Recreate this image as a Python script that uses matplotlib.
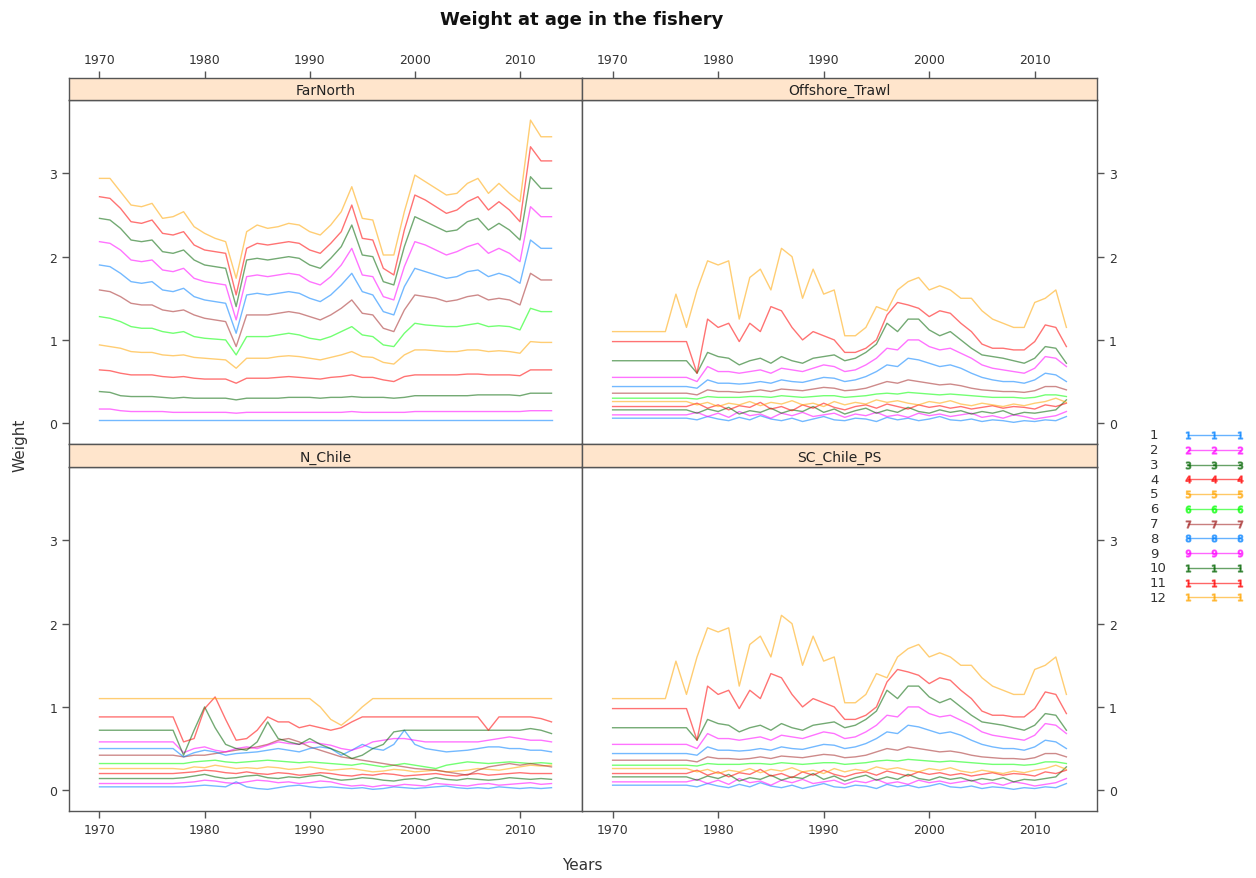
import matplotlib
matplotlib.use("Agg")
import matplotlib.pyplot as plt
from matplotlib.lines import Line2D

years = list(range(1970, 2014))
ages = [str(a) for a in range(1, 13)]
panel_names = ["FarNorth", "Offshore_Trawl", "N_Chile", "SC_Chile_PS"]
age_colors = ["#0080ff", "#ff00ff", "darkgreen", "#ff0000", "orange", "#00ff00", "brown",
              "#0080ff", "#ff00ff", "darkgreen", "#ff0000", "orange"]

# weight at age, one list per age (1..12), years 1970..2013
farnorth = [
    [0.04] * 44,
    [0.17, 0.17, 0.15, 0.14, 0.14, 0.14, 0.14, 0.13, 0.13, 0.13,
     0.13, 0.13, 0.13, 0.12, 0.13, 0.13, 0.13, 0.13, 0.13, 0.13,
     0.13, 0.13, 0.13, 0.13, 0.14, 0.13, 0.13, 0.13, 0.13, 0.13,
     0.14, 0.14, 0.14, 0.14, 0.14, 0.14, 0.14, 0.14, 0.14, 0.14,
     0.14, 0.15, 0.15, 0.15],
    [0.38, 0.37, 0.33, 0.32, 0.32, 0.32, 0.31, 0.30, 0.31, 0.30,
     0.30, 0.30, 0.30, 0.28, 0.30, 0.30, 0.30, 0.30, 0.31, 0.31,
     0.31, 0.30, 0.31, 0.31, 0.32, 0.31, 0.31, 0.31, 0.30, 0.31,
     0.33, 0.33, 0.33, 0.33, 0.33, 0.33, 0.34, 0.34, 0.34, 0.34,
     0.33, 0.36, 0.36, 0.36],
    [0.64, 0.63, 0.60, 0.58, 0.58, 0.58, 0.56, 0.55, 0.56, 0.54,
     0.53, 0.53, 0.53, 0.48, 0.54, 0.54, 0.54, 0.55, 0.56, 0.55,
     0.54, 0.53, 0.55, 0.56, 0.58, 0.55, 0.55, 0.52, 0.50, 0.56,
     0.58, 0.58, 0.58, 0.58, 0.58, 0.59, 0.59, 0.58, 0.58, 0.58,
     0.57, 0.64, 0.64, 0.64],
    [0.94, 0.92, 0.90, 0.86, 0.85, 0.85, 0.82, 0.81, 0.82, 0.79,
     0.78, 0.77, 0.76, 0.66, 0.78, 0.78, 0.78, 0.80, 0.81, 0.80,
     0.78, 0.76, 0.79, 0.82, 0.86, 0.80, 0.79, 0.73, 0.71, 0.82,
     0.88, 0.88, 0.87, 0.86, 0.86, 0.88, 0.88, 0.86, 0.87, 0.86,
     0.84, 0.98, 0.97, 0.97],
    [1.28, 1.26, 1.22, 1.16, 1.14, 1.14, 1.10, 1.08, 1.10, 1.04,
     1.02, 1.01, 1.00, 0.82, 1.04, 1.04, 1.04, 1.06, 1.08, 1.06,
     1.02, 1.00, 1.04, 1.10, 1.16, 1.06, 1.04, 0.94, 0.92, 1.08,
     1.20, 1.18, 1.17, 1.16, 1.16, 1.18, 1.20, 1.16, 1.17, 1.16,
     1.12, 1.38, 1.34, 1.34],
    [1.60, 1.58, 1.52, 1.44, 1.42, 1.42, 1.36, 1.34, 1.36, 1.30,
     1.26, 1.24, 1.22, 0.92, 1.30, 1.30, 1.30, 1.32, 1.34, 1.32,
     1.28, 1.24, 1.30, 1.38, 1.48, 1.32, 1.30, 1.14, 1.10, 1.36,
     1.54, 1.52, 1.50, 1.46, 1.48, 1.52, 1.54, 1.48, 1.50, 1.48,
     1.42, 1.80, 1.72, 1.72],
    [1.90, 1.88, 1.80, 1.70, 1.68, 1.70, 1.60, 1.58, 1.62, 1.52,
     1.48, 1.46, 1.44, 1.08, 1.54, 1.56, 1.54, 1.56, 1.58, 1.56,
     1.50, 1.46, 1.54, 1.66, 1.80, 1.58, 1.54, 1.34, 1.30, 1.64,
     1.86, 1.82, 1.78, 1.74, 1.76, 1.82, 1.84, 1.76, 1.80, 1.76,
     1.68, 2.20, 2.10, 2.10],
    [2.18, 2.16, 2.08, 1.96, 1.94, 1.96, 1.84, 1.82, 1.86, 1.74,
     1.70, 1.68, 1.66, 1.24, 1.76, 1.78, 1.76, 1.78, 1.80, 1.78,
     1.70, 1.66, 1.76, 1.90, 2.10, 1.78, 1.76, 1.52, 1.48, 1.88,
     2.18, 2.14, 2.08, 2.02, 2.06, 2.12, 2.16, 2.04, 2.10, 2.04,
     1.94, 2.60, 2.48, 2.48],
    [2.46, 2.44, 2.34, 2.20, 2.18, 2.20, 2.06, 2.04, 2.08, 1.96,
     1.90, 1.88, 1.86, 1.40, 1.96, 1.98, 1.96, 1.98, 2.00, 1.98,
     1.90, 1.86, 1.98, 2.12, 2.38, 2.02, 2.00, 1.70, 1.66, 2.12,
     2.48, 2.42, 2.36, 2.30, 2.32, 2.42, 2.46, 2.32, 2.40, 2.32,
     2.20, 2.96, 2.82, 2.82],
    [2.72, 2.70, 2.58, 2.42, 2.40, 2.44, 2.28, 2.26, 2.30, 2.14,
     2.08, 2.06, 2.04, 1.54, 2.10, 2.16, 2.14, 2.16, 2.18, 2.16,
     2.08, 2.04, 2.16, 2.30, 2.62, 2.22, 2.20, 1.86, 1.78, 2.32,
     2.74, 2.68, 2.60, 2.52, 2.56, 2.66, 2.72, 2.56, 2.66, 2.56,
     2.42, 3.32, 3.15, 3.15],
    [2.94, 2.94, 2.78, 2.62, 2.60, 2.64, 2.46, 2.48, 2.54, 2.36,
     2.28, 2.22, 2.18, 1.74, 2.30, 2.38, 2.34, 2.36, 2.40, 2.38,
     2.30, 2.26, 2.38, 2.54, 2.84, 2.46, 2.44, 2.02, 2.02, 2.54,
     2.98, 2.90, 2.82, 2.74, 2.76, 2.88, 2.94, 2.76, 2.88, 2.76,
     2.66, 3.64, 3.44, 3.44],
]

offshore_trawl = [
    [0.06, 0.06, 0.06, 0.06, 0.06, 0.06, 0.06, 0.06, 0.04, 0.08,
     0.05, 0.03, 0.07, 0.04, 0.09, 0.05, 0.03, 0.06, 0.02, 0.05,
     0.08, 0.04, 0.03, 0.06, 0.05, 0.02, 0.07, 0.04, 0.06, 0.03,
     0.05, 0.08, 0.04, 0.03, 0.05, 0.02, 0.04, 0.03, 0.01, 0.03,
     0.02, 0.04, 0.03, 0.08],
    [0.10, 0.10, 0.10, 0.10, 0.10, 0.10, 0.10, 0.10, 0.13, 0.08,
     0.12, 0.07, 0.14, 0.09, 0.11, 0.06, 0.12, 0.09, 0.13, 0.08,
     0.10, 0.12, 0.07, 0.11, 0.09, 0.13, 0.08, 0.10, 0.07, 0.12,
     0.09, 0.11, 0.08, 0.10, 0.12, 0.07, 0.09, 0.06, 0.10, 0.08,
     0.05, 0.07, 0.09, 0.14],
    [0.16, 0.16, 0.16, 0.16, 0.16, 0.16, 0.16, 0.16, 0.12, 0.17,
     0.14, 0.19, 0.11, 0.15, 0.13, 0.18, 0.12, 0.16, 0.14, 0.20,
     0.13, 0.17, 0.11, 0.15, 0.18, 0.12, 0.16, 0.13, 0.19, 0.14,
     0.12, 0.16, 0.13, 0.15, 0.11, 0.14, 0.12, 0.15, 0.10, 0.13,
     0.12, 0.14, 0.16, 0.28],
    [0.20, 0.20, 0.20, 0.20, 0.20, 0.20, 0.20, 0.20, 0.24, 0.18,
     0.22, 0.16, 0.21, 0.19, 0.25, 0.17, 0.20, 0.15, 0.22, 0.18,
     0.24, 0.19, 0.16, 0.20, 0.22, 0.18, 0.23, 0.20, 0.17, 0.22,
     0.19, 0.21, 0.18, 0.20, 0.17, 0.19, 0.21, 0.18, 0.20, 0.19,
     0.17, 0.22, 0.20, 0.24],
    [0.26, 0.26, 0.26, 0.26, 0.26, 0.26, 0.26, 0.26, 0.22, 0.25,
     0.20, 0.24, 0.22, 0.26, 0.21, 0.25, 0.23, 0.27, 0.22, 0.24,
     0.20, 0.26, 0.22, 0.25, 0.23, 0.28, 0.25, 0.27, 0.24, 0.22,
     0.26, 0.24, 0.27, 0.23, 0.21, 0.24, 0.22, 0.20, 0.23, 0.21,
     0.24, 0.26, 0.30, 0.25],
    [0.30, 0.30, 0.30, 0.30, 0.30, 0.30, 0.30, 0.30, 0.29, 0.32,
     0.31, 0.31, 0.31, 0.32, 0.32, 0.31, 0.33, 0.32, 0.31, 0.32,
     0.33, 0.33, 0.31, 0.32, 0.33, 0.35, 0.36, 0.35, 0.37, 0.36,
     0.35, 0.34, 0.35, 0.34, 0.33, 0.32, 0.31, 0.31, 0.31, 0.30,
     0.31, 0.34, 0.34, 0.32],
    [0.36, 0.36, 0.36, 0.36, 0.36, 0.36, 0.36, 0.36, 0.34, 0.40,
     0.38, 0.38, 0.37, 0.38, 0.40, 0.38, 0.41, 0.40, 0.39, 0.41,
     0.43, 0.42, 0.39, 0.40, 0.42, 0.46, 0.50, 0.48, 0.52, 0.50,
     0.48, 0.46, 0.47, 0.45, 0.42, 0.40, 0.39, 0.38, 0.38, 0.37,
     0.39, 0.44, 0.44, 0.40],
    [0.44, 0.44, 0.44, 0.44, 0.44, 0.44, 0.44, 0.44, 0.42, 0.52,
     0.48, 0.48, 0.47, 0.48, 0.50, 0.48, 0.52, 0.50, 0.49, 0.52,
     0.55, 0.54, 0.50, 0.52, 0.56, 0.62, 0.70, 0.68, 0.78, 0.76,
     0.72, 0.68, 0.70, 0.66, 0.60, 0.55, 0.52, 0.50, 0.50, 0.48,
     0.52, 0.60, 0.58, 0.50],
    [0.55, 0.55, 0.55, 0.55, 0.55, 0.55, 0.55, 0.55, 0.50, 0.68,
     0.62, 0.62, 0.60, 0.62, 0.64, 0.60, 0.66, 0.64, 0.62, 0.66,
     0.70, 0.68, 0.62, 0.64, 0.70, 0.78, 0.90, 0.88, 1.00, 1.00,
     0.92, 0.88, 0.90, 0.84, 0.78, 0.70, 0.66, 0.64, 0.62, 0.60,
     0.66, 0.80, 0.78, 0.68],
    [0.75, 0.75, 0.75, 0.75, 0.75, 0.75, 0.75, 0.75, 0.60, 0.85,
     0.80, 0.78, 0.70, 0.75, 0.78, 0.72, 0.80, 0.75, 0.72, 0.78,
     0.80, 0.82, 0.75, 0.78, 0.85, 0.95, 1.20, 1.10, 1.25, 1.25,
     1.12, 1.05, 1.10, 1.00, 0.90, 0.82, 0.80, 0.78, 0.75, 0.72,
     0.78, 0.92, 0.90, 0.72],
    [0.98, 0.98, 0.98, 0.98, 0.98, 0.98, 0.98, 0.98, 0.60, 1.25,
     1.15, 1.20, 0.98, 1.20, 1.10, 1.40, 1.35, 1.15, 1.00, 1.10,
     1.05, 1.00, 0.85, 0.85, 0.90, 1.00, 1.30, 1.45, 1.42, 1.38,
     1.28, 1.35, 1.32, 1.20, 1.10, 0.95, 0.90, 0.90, 0.88, 0.88,
     0.98, 1.18, 1.15, 0.92],
    [1.10, 1.10, 1.10, 1.10, 1.10, 1.10, 1.55, 1.15, 1.60, 1.95,
     1.90, 1.95, 1.25, 1.75, 1.85, 1.60, 2.10, 2.00, 1.50, 1.85,
     1.55, 1.60, 1.05, 1.05, 1.15, 1.40, 1.35, 1.60, 1.70, 1.75,
     1.60, 1.65, 1.60, 1.50, 1.50, 1.35, 1.25, 1.20, 1.15, 1.15,
     1.45, 1.50, 1.60, 1.15],
]

n_chile = [
    [0.04, 0.04, 0.04, 0.04, 0.04, 0.04, 0.04, 0.04, 0.04, 0.05,
     0.06, 0.05, 0.04, 0.10, 0.04, 0.02, 0.01, 0.03, 0.05, 0.06,
     0.04, 0.03, 0.04, 0.03, 0.02, 0.03, 0.01, 0.02, 0.04, 0.03,
     0.02, 0.03, 0.04, 0.05, 0.03, 0.02, 0.03, 0.02, 0.04, 0.03,
     0.02, 0.03, 0.02, 0.03],
    [0.08, 0.08, 0.08, 0.08, 0.08, 0.08, 0.08, 0.08, 0.09, 0.10,
     0.12, 0.11, 0.09, 0.08, 0.10, 0.12, 0.11, 0.09, 0.10, 0.08,
     0.09, 0.11, 0.10, 0.07, 0.05, 0.06, 0.04, 0.06, 0.05, 0.07,
     0.06, 0.05, 0.08, 0.07, 0.06, 0.05, 0.07, 0.08, 0.06, 0.07,
     0.08, 0.09, 0.07, 0.08],
    [0.14, 0.14, 0.14, 0.14, 0.14, 0.14, 0.14, 0.14, 0.15, 0.17,
     0.19, 0.16, 0.14, 0.15, 0.17, 0.18, 0.15, 0.14, 0.16, 0.15,
     0.17, 0.18, 0.14, 0.12, 0.13, 0.15, 0.14, 0.12, 0.11, 0.13,
     0.14, 0.12, 0.15, 0.13, 0.12, 0.14, 0.13, 0.12, 0.13, 0.15,
     0.14, 0.13, 0.14, 0.13],
    [0.20, 0.20, 0.20, 0.20, 0.20, 0.20, 0.20, 0.20, 0.21, 0.22,
     0.24, 0.23, 0.21, 0.20, 0.22, 0.20, 0.19, 0.21, 0.20, 0.18,
     0.19, 0.21, 0.20, 0.18, 0.17, 0.19, 0.18, 0.20, 0.19, 0.17,
     0.18, 0.19, 0.20, 0.18, 0.17, 0.19, 0.20, 0.18, 0.19, 0.20,
     0.21, 0.20, 0.20, 0.20],
    [0.26, 0.26, 0.26, 0.26, 0.26, 0.26, 0.26, 0.26, 0.25, 0.28,
     0.27, 0.30, 0.28, 0.26, 0.27, 0.26, 0.28, 0.27, 0.25, 0.26,
     0.28, 0.26, 0.24, 0.25, 0.26, 0.24, 0.22, 0.23, 0.25, 0.24,
     0.22, 0.23, 0.24, 0.22, 0.23, 0.24, 0.26, 0.25, 0.24, 0.26,
     0.28, 0.30, 0.29, 0.30],
    [0.32, 0.32, 0.32, 0.32, 0.32, 0.32, 0.32, 0.32, 0.32, 0.34,
     0.35, 0.36, 0.34, 0.33, 0.34, 0.35, 0.36, 0.35, 0.34, 0.33,
     0.34, 0.33, 0.32, 0.31, 0.30, 0.32, 0.30, 0.28, 0.30, 0.32,
     0.30, 0.28, 0.26, 0.30, 0.32, 0.34, 0.33, 0.32, 0.33, 0.34,
     0.33, 0.32, 0.33, 0.32],
    [0.42, 0.42, 0.42, 0.42, 0.42, 0.42, 0.42, 0.42, 0.40, 0.42,
     0.42, 0.44, 0.46, 0.48, 0.50, 0.52, 0.55, 0.60, 0.62, 0.58,
     0.52, 0.48, 0.44, 0.40, 0.38, 0.36, 0.34, 0.32, 0.30, 0.28,
     0.26, 0.25, 0.24, 0.22, 0.20, 0.18, 0.24, 0.28, 0.30, 0.32,
     0.30, 0.32, 0.30, 0.28],
    [0.50, 0.50, 0.50, 0.50, 0.50, 0.50, 0.50, 0.50, 0.40, 0.45,
     0.48, 0.46, 0.42, 0.44, 0.45, 0.46, 0.48, 0.50, 0.48, 0.46,
     0.50, 0.52, 0.50, 0.42, 0.48, 0.55, 0.50, 0.48, 0.55, 0.72,
     0.55, 0.50, 0.48, 0.46, 0.47, 0.48, 0.50, 0.52, 0.52, 0.50,
     0.50, 0.48, 0.48, 0.46],
    [0.58, 0.58, 0.58, 0.58, 0.58, 0.58, 0.58, 0.58, 0.45, 0.50,
     0.52, 0.48, 0.46, 0.50, 0.52, 0.50, 0.54, 0.58, 0.56, 0.55,
     0.58, 0.56, 0.54, 0.50, 0.48, 0.52, 0.58, 0.60, 0.62, 0.62,
     0.60, 0.58, 0.58, 0.58, 0.58, 0.58, 0.58, 0.60, 0.62, 0.64,
     0.62, 0.60, 0.60, 0.58],
    [0.72, 0.72, 0.72, 0.72, 0.72, 0.72, 0.72, 0.72, 0.42, 0.72,
     1.00, 0.75, 0.55, 0.50, 0.48, 0.58, 0.82, 0.62, 0.58, 0.55,
     0.62, 0.55, 0.50, 0.45, 0.38, 0.42, 0.50, 0.55, 0.70, 0.72,
     0.72, 0.72, 0.72, 0.72, 0.72, 0.72, 0.72, 0.72, 0.72, 0.72,
     0.72, 0.74, 0.72, 0.68],
    [0.88, 0.88, 0.88, 0.88, 0.88, 0.88, 0.88, 0.88, 0.58, 0.62,
     0.98, 1.12, 0.85, 0.60, 0.62, 0.72, 0.88, 0.82, 0.82, 0.75,
     0.78, 0.75, 0.72, 0.75, 0.82, 0.88, 0.88, 0.88, 0.88, 0.88,
     0.88, 0.88, 0.88, 0.88, 0.88, 0.88, 0.88, 0.72, 0.88, 0.88,
     0.88, 0.88, 0.86, 0.82],
    [1.10, 1.10, 1.10, 1.10, 1.10, 1.10, 1.10, 1.10, 1.10, 1.10,
     1.10, 1.10, 1.10, 1.10, 1.10, 1.10, 1.10, 1.10, 1.10, 1.10,
     1.10, 1.00, 0.85, 0.78, 0.88, 1.00, 1.10, 1.10, 1.10, 1.10,
     1.10, 1.10, 1.10, 1.10, 1.10, 1.10, 1.10, 1.10, 1.10, 1.10,
     1.10, 1.10, 1.10, 1.10],
]

# SC_Chile_PS shows the same weights as Offshore_Trawl
sc_chile_ps = offshore_trawl

panel_data = {"FarNorth": farnorth, "Offshore_Trawl": offshore_trawl,
              "N_Chile": n_chile, "SC_Chile_PS": sc_chile_ps}

W, H = 1256, 879
fig = plt.figure(figsize=(W / 100, H / 100), dpi=100)
plt.rcParams["font.family"] = "DejaVu Sans"

def fx(px):
    return px / W

def fy(py):
    return 1 - py / H

axcol = "#555555"
txtcol = "#333333"
strip_col = "#ffe5cc"
cols_px = [(69, 582), (582, 1097)]
rows_px = [(78.5, 100.7, 445), (445, 467.7, 812)]

for i, name in enumerate(panel_names):
    r, c = divmod(i, 2)
    x0, x1 = cols_px[c]
    s0, s1, p1 = rows_px[r]
    ax = fig.add_axes([fx(x0), fy(p1), fx(x1 - x0), fy(s1) - fy(p1)])
    sax = fig.add_axes([fx(x0), fy(s1), fx(x1 - x0), fy(s0) - fy(s1)])
    sax.set_facecolor(strip_col)
    sax.set_xticks([])
    sax.set_yticks([])
    sax.text(0.5, 0.45, name, ha="center", va="center", fontsize=10, color="#222222",
             transform=sax.transAxes)
    for ax_ in (ax, sax):
        for sp in ax_.spines.values():
            sp.set_color(axcol)
            sp.set_linewidth(1)

    for a, vals in enumerate(panel_data[name]):
        ax.plot(years, vals, color=age_colors[a], lw=1, alpha=0.55)

    ax.set_xlim(1967.1, 2015.9)
    ax.set_ylim(-0.25, 3.885)
    ax.set_xticks([1970, 1980, 1990, 2000, 2010])
    ax.set_yticks([0, 1, 2, 3])
    ax.tick_params(colors=axcol, labelcolor=txtcol, labelsize=9, length=5, width=1,
                   direction="out")
    if r == 0:
        ax.xaxis.tick_top()
        sax.set_zorder(3)
        ax.tick_params(axis="x", top=False, labeltop=False)
        sax.set_xticks([1970, 1980, 1990, 2000, 2010])
        sax.set_xlim(1967.1, 2015.9)
        sax.xaxis.tick_top()
        sax.tick_params(axis="x", colors=axcol, labelcolor=txtcol, labelsize=9,
                        length=5, width=1, direction="out", pad=3)
    if c == 1:
        ax.yaxis.tick_right()

fig.text(fx(582), fy(20), "Weight at age in the fishery", ha="center", va="center",
         fontsize=13, fontweight="bold", color="#111111")
fig.text(fx(582), fy(866), "Years", ha="center", va="center", fontsize=11, color=txtcol)
fig.text(fx(20), fy(445), "Weight", ha="center", va="center", fontsize=11,
         color=txtcol, rotation=90)

# key on the right
for a, lab in enumerate(ages):
    y = fy(436 + a * 14.75)
    fig.text(fx(1150), y, lab, ha="left", va="center", fontsize=9.5, color=txtcol)
    fig.add_artist(Line2D([fx(1188), fx(1214), fx(1240)], [y, y, y],
                          transform=fig.transFigure, color=age_colors[a], lw=1,
                          alpha=0.6, marker="$%s$" % lab[0], markersize=5))

fig.savefig("out.png", dpi=100)
